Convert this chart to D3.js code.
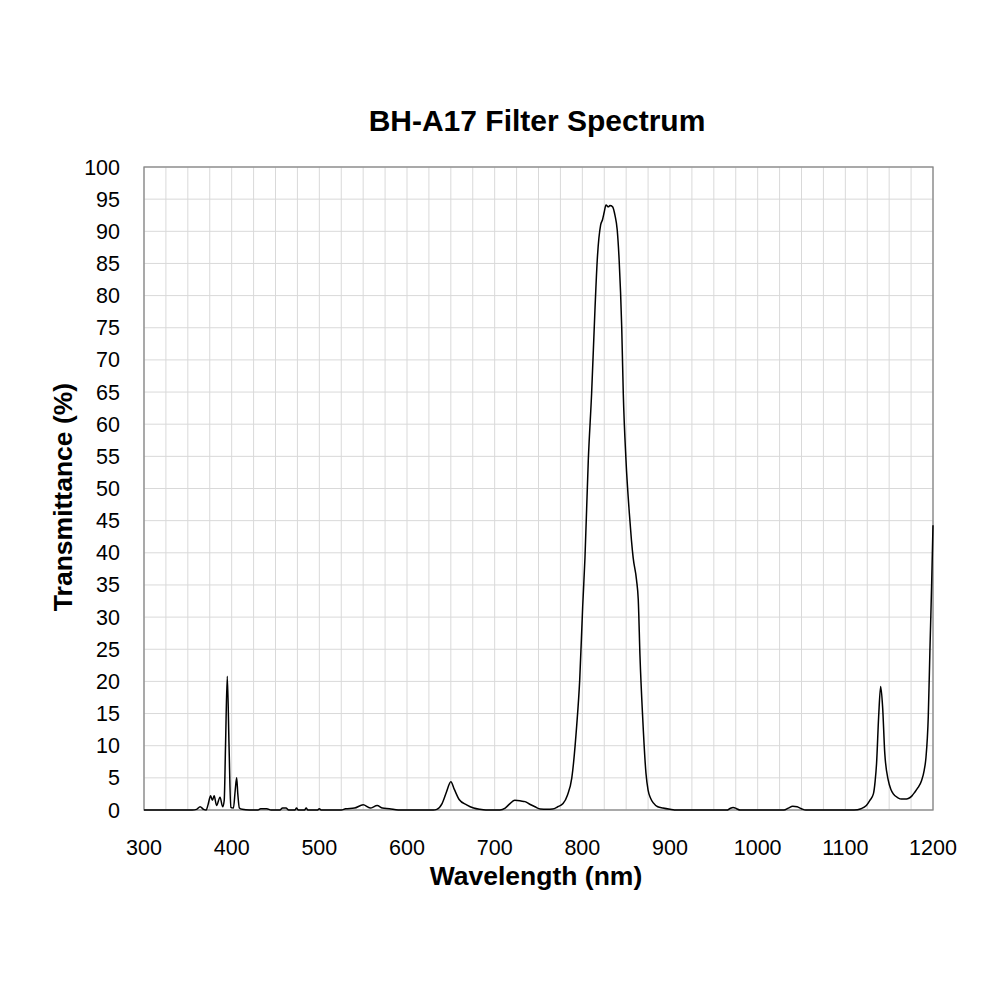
<!DOCTYPE html>
<html>
<head>
<meta charset="utf-8">
<script src="https://cdn.jsdelivr.net/npm/d3@7"></script>
<style>
  body { margin: 0; background: #fff; }
  text { font-family: "Liberation Sans", Arial, sans-serif; }
</style>
</head>
<body>
<div id="chart"></div>
<script>
// wavelength (nm) and transmittance (%)
const wavelength = [
  300, 355, 360, 364, 368, 371, 373, 376, 378, 380, 382.8, 386.7, 389.7, 391.5, 393, 395, 397, 399,
  402, 404, 405.7, 407, 408.8, 412, 420, 430, 433, 440, 445, 455, 458, 462, 465, 472, 474, 476,
  483, 485, 487, 498, 500, 502, 525, 530, 540, 550, 558, 566, 572, 580, 590,
  630, 634, 640, 645, 650, 654, 659.7, 668, 676, 683, 690, 706, 712, 717.5, 723, 730, 734.6,
  740, 746, 752, 760, 766, 772, 778, 783, 788, 793.5, 797, 800.4, 803, 806.8, 810.6, 814.4,
  817, 820.9, 823, 825, 827, 829.7, 831.5, 834.6, 837.2, 839.8, 842, 844.9, 846.7, 849.8,
  853.6, 856, 858, 861.8, 863.8, 865.8, 868.8, 872.6, 875, 878, 881, 886, 892, 900, 905,
  965, 968, 972, 976, 980, 1030, 1035, 1040, 1045, 1050, 1055,
  1110, 1118, 1124, 1128, 1132, 1134, 1135.6, 1138, 1140.3, 1142.5, 1145, 1149, 1152, 1154.7,
  1160, 1164, 1168, 1171.8, 1176, 1179.4, 1183, 1187, 1190, 1192, 1194.6, 1196.5, 1198.5, 1200
];
const transmittance = [
  0, 0, 0.1, 0.5, 0.1, 0, 0.8, 2.2, 1.5, 2.2, 0.7, 2.0, 0.5, 1.5, 10, 20.8, 10, 0.4,
  0.3, 3, 5.0, 2.5, 0.3, 0.1, 0, 0, 0.2, 0.2, 0, 0, 0.3, 0.3, 0, 0, 0.3, 0,
  0, 0.3, 0, 0, 0.2, 0, 0, 0.2, 0.3, 0.8, 0.3, 0.7, 0.3, 0.2, 0,
  0, 0.1, 1.0, 2.8, 4.4, 3.2, 1.6, 0.8, 0.3, 0.1, 0, 0, 0.3, 1.0, 1.5, 1.4, 1.3,
  0.9, 0.5, 0.15, 0.1, 0.15, 0.5, 1.0, 2.3, 5.0, 13, 20.2, 31.6, 39.2, 54.4, 64.8, 77.8,
  85.5, 91, 91.8, 93, 94.1, 93.8, 94, 93.8, 92.5, 90.2, 85.5, 75.2, 64.8, 54.4,
  46.2, 42, 39.2, 35.8, 32.7, 23.8, 14.5, 5.7, 3.1, 1.8, 1.1, 0.5, 0.3, 0.1, 0,
  0, 0.2, 0.4, 0.2, 0, 0, 0.3, 0.6, 0.5, 0.2, 0,
  0, 0.2, 0.7, 1.5, 2.5, 4.5, 7.2, 14.5, 19.2, 16.1, 8.8, 4.6, 3.2, 2.5,
  1.9, 1.7, 1.7, 1.8, 2.2, 2.8, 3.5, 4.6, 6.2, 8.2, 14.5, 24.9, 35.3, 44.3
];
const xTicks = [300, 400, 500, 600, 700, 800, 900, 1000, 1100, 1200];
const yTicks = d3.range(0, 101, 5);
const xGrid = d3.range(300, 1201, 25);

const data = wavelength.map((w, i) => ({ w, t: transmittance[i] }));

const margin = { top: 167, left: 144 },
  width = 1000,
  height = 1000,
  innerWidth = 789,
  innerHeight = 643;

const svg = d3
  .select("#chart")
  .append("svg")
  .attr("width", width)
  .attr("height", height);

const g = svg
  .append("g")
  .attr("transform", `translate(${margin.left},${margin.top})`);

const xScale = d3.scaleLinear().domain([300, 1200]).range([0, innerWidth]);
const yScale = d3.scaleLinear().domain([0, 100]).range([innerHeight, 0]);

// grid
g.selectAll(".vgrid")
  .data(xGrid)
  .join("line")
  .attr("class", "vgrid")
  .attr("x1", (d) => xScale(d))
  .attr("x2", (d) => xScale(d))
  .attr("y1", 0)
  .attr("y2", innerHeight)
  .attr("stroke", "#d9d9d9")
  .attr("stroke-width", 1);

g.selectAll(".hgrid")
  .data(yTicks)
  .join("line")
  .attr("class", "hgrid")
  .attr("x1", 0)
  .attr("x2", innerWidth)
  .attr("y1", (d) => yScale(d))
  .attr("y2", (d) => yScale(d))
  .attr("stroke", "#d9d9d9")
  .attr("stroke-width", 1);

// plot border
g.append("rect")
  .attr("width", innerWidth)
  .attr("height", innerHeight)
  .attr("fill", "none")
  .attr("stroke", "#868686")
  .attr("stroke-width", 1.3);

// tick labels, no tick marks
g.selectAll(".xlabel")
  .data(xTicks)
  .join("text")
  .attr("class", "xlabel")
  .attr("x", (d) => xScale(d))
  .attr("y", innerHeight + 45)
  .attr("text-anchor", "middle")
  .attr("font-size", 21.5)
  .text((d) => d);

g.selectAll(".ylabel")
  .data(yTicks)
  .join("text")
  .attr("class", "ylabel")
  .attr("x", -24)
  .attr("y", (d) => yScale(d) + 7.5)
  .attr("text-anchor", "end")
  .attr("font-size", 21.5)
  .text((d) => d);

// spectrum line
const line = d3
  .line()
  .x((d) => xScale(d.w))
  .y((d) => yScale(d.t))
  .curve(d3.curveMonotoneX);

g.append("path")
  .datum(data)
  .attr("fill", "none")
  .attr("stroke", "#000")
  .attr("stroke-width", 1.5)
  .attr("d", line);

// titles
svg.append("text")
  .attr("x", 537)
  .attr("y", 131)
  .attr("text-anchor", "middle")
  .attr("font-size", 30)
  .attr("font-weight", "bold")
  .text("BH-A17 Filter Spectrum");

svg.append("text")
  .attr("x", 536)
  .attr("y", 885)
  .attr("text-anchor", "middle")
  .attr("font-size", 26.5)
  .attr("font-weight", "bold")
  .text("Wavelength (nm)");

svg.append("text")
  .attr("transform", "translate(72,497) rotate(-90)")
  .attr("text-anchor", "middle")
  .attr("font-size", 26.5)
  .attr("font-weight", "bold")
  .text("Transmittance (%)");
</script>
</body>
</html>
